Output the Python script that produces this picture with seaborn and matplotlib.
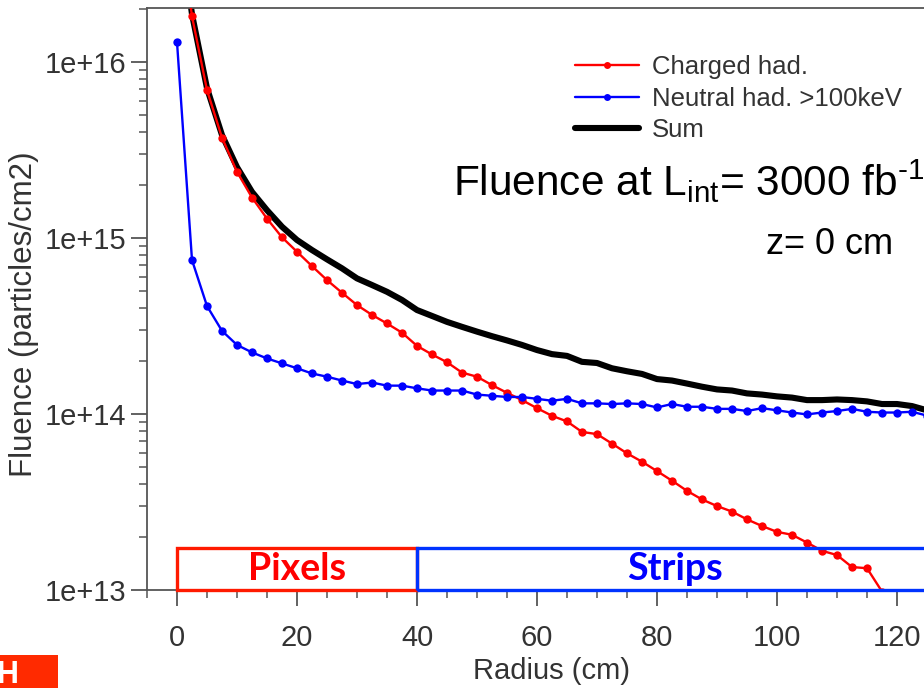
import matplotlib
matplotlib.use("Agg")
import matplotlib.pyplot as plt
import seaborn as sns
import pandas as pd
from matplotlib.patches import Rectangle
from matplotlib.ticker import FixedLocator, LogLocator, NullFormatter

# ---------------- data ----------------
radius_charged = [0, 2.5, 5, 7.5, 10, 12.5, 15, 17.5, 20, 22.5, 25, 27.5, 30, 32.5, 35, 37.5,
                  40, 42.5, 45, 47.5, 50, 52.5, 55, 57.5, 60, 62.5, 65, 67.5, 70, 72.5, 75, 77.5,
                  80, 82.5, 85, 87.5, 90, 92.5, 95, 97.5, 100, 102.5, 105, 107.5, 110, 112.5,
                  115, 117.5, 120]
charged_had = [8e16, 1.82e16, 6.93e15, 3.72e15, 2.38e15, 1.70e15, 1.29e15, 1.01e15, 8.36e14,
               6.93e14, 5.77e14, 4.89e14, 4.16e14, 3.66e14, 3.27e14, 2.90e14, 2.44e14, 2.18e14,
               1.97e14, 1.72e14, 1.63e14, 1.46e14, 1.32e14, 1.20e14, 1.08e14, 9.77e13, 9.08e13,
               7.91e13, 7.69e13, 6.79e13, 5.98e13, 5.36e13, 4.74e13, 4.18e13, 3.66e13, 3.27e13,
               3.00e13, 2.79e13, 2.52e13, 2.31e13, 2.14e13, 2.06e13, 1.86e13, 1.67e13, 1.58e13,
               1.35e13, 1.33e13, 9.8e12, 6.0e12]

radius_full = [0, 2.5, 5, 7.5, 10, 12.5, 15, 17.5, 20, 22.5, 25, 27.5, 30, 32.5, 35, 37.5,
               40, 42.5, 45, 47.5, 50, 52.5, 55, 57.5, 60, 62.5, 65, 67.5, 70, 72.5, 75, 77.5,
               80, 82.5, 85, 87.5, 90, 92.5, 95, 97.5, 100, 102.5, 105, 107.5, 110, 112.5,
               115, 117.5, 120, 122.5, 125]
neutral_had = [1.30e16, 7.50e14, 4.11e14, 2.97e14, 2.47e14, 2.24e14, 2.07e14, 1.94e14, 1.82e14,
               1.70e14, 1.63e14, 1.55e14, 1.48e14, 1.51e14, 1.45e14, 1.45e14, 1.40e14, 1.36e14,
               1.36e14, 1.36e14, 1.29e14, 1.27e14, 1.25e14, 1.25e14, 1.22e14, 1.19e14, 1.22e14,
               1.15e14, 1.15e14, 1.14e14, 1.15e14, 1.14e14, 1.09e14, 1.14e14, 1.10e14, 1.10e14,
               1.07e14, 1.07e14, 1.04e14, 1.08e14, 1.05e14, 1.02e14, 9.95e13, 1.02e14, 1.04e14,
               1.07e14, 1.03e14, 1.02e14, 1.02e14, 1.03e14, 9.8e13]
sum_total = [8e16, 1.87e16, 7.11e15, 3.85e15, 2.53e15, 1.83e15, 1.44e15, 1.16e15, 9.75e14,
             8.55e14, 7.57e14, 6.73e14, 5.90e14, 5.41e14, 4.95e14, 4.45e14, 3.90e14, 3.61e14,
             3.34e14, 3.13e14, 2.94e14, 2.77e14, 2.62e14, 2.47e14, 2.31e14, 2.19e14, 2.14e14,
             1.98e14, 1.95e14, 1.82e14, 1.75e14, 1.69e14, 1.58e14, 1.55e14, 1.49e14, 1.43e14,
             1.38e14, 1.36e14, 1.31e14, 1.29e14, 1.26e14, 1.24e14, 1.20e14, 1.20e14, 1.21e14,
             1.20e14, 1.18e14, 1.14e14, 1.14e14, 1.11e14, 1.05e14]

series_labels = ["Charged had.", "Neutral had. >100keV", "Sum"]
x_major_ticks = [0, 20, 40, 60, 80, 100, 120]
y_major_ticks = [1e13, 1e14, 1e15, 1e16]
y_tick_labels = ["1e+13", "1e+14", "1e+15", "1e+16"]
regions = ["Pixels", "Strips"]
region_start = [0, 40]
region_end = [40, 126]

# ---------------- style ----------------
sns.set_theme(style="white")
plt.rcParams["font.family"] = ["Liberation Sans", "DejaVu Sans"]
plt.rcParams["mathtext.fontset"] = "custom"
plt.rcParams["mathtext.rm"] = "Liberation Sans"
plt.rcParams["mathtext.it"] = "Liberation Sans:italic"
plt.rcParams["mathtext.bf"] = "Liberation Sans:bold"

W, H = 924, 688
fig = plt.figure(figsize=(W / 100, H / 100), dpi=100)
fig.patch.set_facecolor("white")

left_px, right_px, top_px, bottom_px = 147, 957, 8, 590
ax = fig.add_axes([left_px / W, 1 - bottom_px / H, (right_px - left_px) / W, (bottom_px - top_px) / H])
ax.set_facecolor("white")
ax.set_yscale("log")

df_c = pd.DataFrame({"r": radius_charged, "f": charged_had})
df_n = pd.DataFrame({"r": radius_full, "f": neutral_had})
df_s = pd.DataFrame({"r": radius_full, "f": sum_total})

sns.lineplot(data=df_s, x="r", y="f", color="black", linewidth=4.4, ax=ax, zorder=2,
             sort=False, estimator=None)
sns.lineplot(data=df_c, x="r", y="f", color="#ff0000", linewidth=1.7, marker="o",
             markersize=6, markeredgewidth=0, ax=ax, zorder=3, sort=False, estimator=None)
sns.lineplot(data=df_n, x="r", y="f", color="#0000ff", linewidth=1.7, marker="o",
             markersize=6, markeredgewidth=0, ax=ax, zorder=4, sort=False, estimator=None)

ax.set_xlim(-5, 130)
ax.set_ylim(1e13, 2.03e16)

# ticks
spine_col = "#555555"
for s in ax.spines.values():
    s.set_color(spine_col)
    s.set_linewidth(1.3)
ax.xaxis.set_major_locator(FixedLocator(x_major_ticks))
ax.xaxis.set_minor_locator(FixedLocator([v * 5 for v in range(-1, 26)]))
ax.yaxis.set_major_locator(FixedLocator(y_major_ticks))
ax.yaxis.set_minor_locator(LogLocator(base=10, subs=[2, 3, 4, 5, 6, 7, 8, 9], numticks=20))
ax.yaxis.set_minor_formatter(NullFormatter())
ax.set_yticklabels(y_tick_labels)
ax.tick_params(axis="both", which="major", direction="out", length=11.5, width=1.3,
               color=spine_col, labelsize=21, labelcolor="#333333")
ax.tick_params(axis="both", which="minor", direction="out", length=6, width=1.1,
               color=spine_col)
ax.tick_params(axis="x", which="major", pad=13)
ax.tick_params(axis="y", which="major", pad=3.5)
ax.tick_params(bottom=True, left=True, top=False, right=False)
ax.tick_params(which="minor", bottom=True, left=True, top=False, right=False)

ax.set_xlabel("Radius (cm)", fontsize=21, color="#333333")
ax.set_ylabel("Fluence (particles/cm2)", fontsize=22.5, color="#333333")
ax.xaxis.set_label_coords(0.499, -0.115)
ax.yaxis.set_label_coords(-0.133, 0.474)

# region boxes
box_top = 1.73e13
box_cols = ["#ff1a00", "#0033ff"]
text_cols = ["#ff0000", "#0000ff"]
for name, x0, x1, bc, tc in zip(regions, region_start, region_end, box_cols, text_cols):
    ax.add_patch(Rectangle((x0, 1e13), x1 - x0, box_top - 1e13, fill=False, edgecolor=bc,
                           linewidth=2.4, zorder=5, clip_on=False))
    ax.text((x0 + x1) / 2, 1.32e13, name, color=tc, fontsize=27, fontweight="bold",
            family=["Lato", "DejaVu Sans"], ha="center", va="center", zorder=6)

# legend
handles = ax.get_lines()
h_sum, h_c, h_n = handles[0], handles[1], handles[2]
leg = fig.legend([h_c, h_n, h_sum], series_labels, loc="upper left",
                 bbox_to_anchor=(575 / W, 1 - 55 / H), frameon=False, fontsize=18.5,
                 handlelength=2.5, handletextpad=0.5, labelspacing=0.30, borderpad=0,
                 borderaxespad=0)
for t in leg.get_texts():
    t.set_color("#333333")
for lh in leg.get_lines():
    if lh.get_marker() not in (None, "None", ""):
        lh.set_markersize(5)

# annotations
fig.text(453 / W, 1 - 196 / H, "Fluence at L$_\\mathregular{int}$= 3000 fb$^{\\mathregular{\u20101}}$",
         fontsize=30.5, color="black", ha="left", va="baseline")
fig.text(766 / W, 1 - 254 / H, "z= 0 cm", fontsize=26, color="black", ha="left", va="baseline")

# logo fragment at bottom-left
fig.patches.append(Rectangle((0, 0), 58 / W, 33 / H, transform=fig.transFigure,
                             facecolor="#ff2a00", edgecolor="none", zorder=0))
fig.text(-3 / W, 1 - 660 / H, "H", fontsize=22, fontweight="bold", color="white",
         ha="left", va="top")

fig.savefig("out.png", dpi=100)
